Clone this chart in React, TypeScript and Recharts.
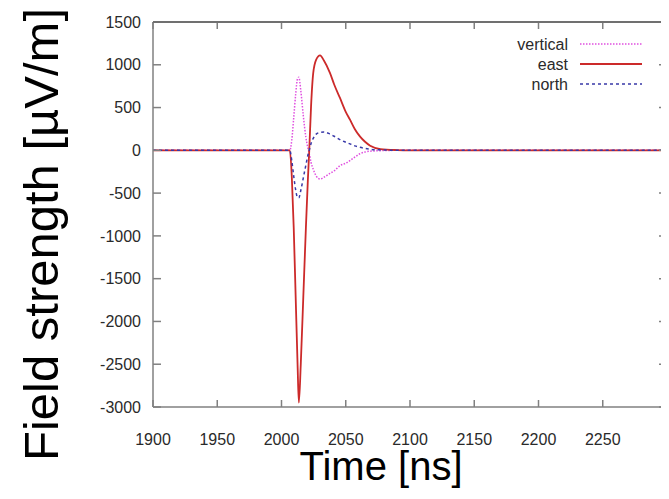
import React from 'react';
import { LineChart, Line, XAxis, YAxis, Legend, Label } from 'recharts';

// time samples in ns
const times = [
  1900, 2000, 2006.5, 2008, 2009.5, 2011, 2012.5, 2013.5, 2015, 2017, 2019, 2020.5, 2021.6,
  2023, 2024.7, 2027, 2030, 2033, 2037.7, 2041, 2045.5, 2050, 2053.3, 2057, 2061, 2065,
  2069, 2077, 2090, 2100, 2300,
];

// field strength in µV/m
const east = [
  0, 0, 0, -300, -900, -1700, -2500, -2950, -2500, -1700, -900, -350, 0,
  514, 905, 1060, 1110, 1050, 905, 770, 612, 450, 358, 250, 163, 100,
  54, 15, 3, 0, 0,
];
const vertical = [
  0, 0, 0, 120, 380, 650, 840, 855, 700, 400, 150, 30, -40,
  -140, -220, -300, -335, -315, -270, -240, -180, -150, -120, -80, -40, -20,
  -10, -4, 0, 0, 0,
];
const north = [
  0, 0, 0, -120, -300, -460, -550, -555, -470, -320, -170, -60, 0,
  80, 140, 190, 210, 215, 190, 165, 125, 95, 75, 52, 35, 22,
  13, 5, 1, 0, 0,
];

const xTicks = [1900, 1950, 2000, 2050, 2100, 2150, 2200, 2250];
const yTicks = [-3000, -2500, -2000, -1500, -1000, -500, 0, 500, 1000, 1500];

const data = times.map((t, i) => ({
  time: t,
  vertical: vertical[i],
  east: east[i],
  north: north[i],
}));

const FONT = '"Liberation Sans", Arial, Helvetica, sans-serif';
const BORDER = '#808080';
const TICK_COLOR = '#2a2a2a';

// chart geometry
const W = 661;
const H = 491;
const MARGIN = { top: 14, right: 2, bottom: 0, left: 0 };
const Y_AXIS_W = 145;
const X_AXIS_H = 92;
const PLOT_TOP = MARGIN.top;
const PLOT_BOTTOM = H - MARGIN.bottom - X_AXIS_H;
const PLOT_LEFT = MARGIN.left + Y_AXIS_W;
const PLOT_RIGHT = W - MARGIN.right;

const series = [
  { key: 'vertical', color: '#e050e0', dash: '1.5 1.5', width: 1.5 },
  { key: 'east', color: '#cc2a2a', dash: undefined, width: 1.8 },
  { key: 'north', color: '#3838a8', dash: '3 3', width: 1.5 },
];

// tick label plus gnuplot-style inward marks on bottom and top of the frame
function XTick({ x, y, payload }: any) {
  return (
    <g>
      <line x1={x} x2={x} y1={PLOT_BOTTOM} y2={PLOT_BOTTOM - 7} stroke={BORDER} strokeWidth={1.5} />
      <line x1={x} x2={x} y1={PLOT_TOP} y2={PLOT_TOP + 7} stroke={BORDER} strokeWidth={1.5} />
      <text x={x} y={y} dy="0.71em" textAnchor="middle" fontSize={16} fontFamily={FONT} fill={TICK_COLOR}>
        {payload.value}
      </text>
    </g>
  );
}

function YTick({ x, y, payload }: any) {
  return (
    <g>
      <line x1={PLOT_LEFT} x2={PLOT_LEFT + 8} y1={y} y2={y} stroke={BORDER} strokeWidth={1.5} />
      <line x1={PLOT_RIGHT} x2={PLOT_RIGHT - 8} y1={y} y2={y} stroke={BORDER} strokeWidth={1.5} />
      <text x={x} y={y} dy="0.355em" textAnchor="end" fontSize={16} fontFamily={FONT} fill={TICK_COLOR}>
        {payload.value}
      </text>
    </g>
  );
}

function LegendBox() {
  return (
    <svg width={170} height={64}>
      {series.map((s, i) => (
        <g key={s.key}>
          <text
            x={80}
            y={10 + i * 20}
            textAnchor="end"
            dominantBaseline="central"
            fontSize={16}
            fontFamily={FONT}
            fill={TICK_COLOR}
          >
            {s.key}
          </text>
          <line
            x1={92}
            x2={154}
            y1={10 + i * 20}
            y2={10 + i * 20}
            stroke={s.color}
            strokeWidth={s.width}
            strokeDasharray={s.dash}
          />
        </g>
      ))}
    </svg>
  );
}

export default function App() {
  const frameLine = { stroke: BORDER, strokeWidth: 1.5 };
  return (
    <div style={{ fontFamily: FONT, position: 'relative', width: W, height: H }}>
      <LineChart width={W} height={H} data={data} margin={MARGIN}>
        <XAxis
          dataKey="time"
          type="number"
          domain={[1900, 2300]}
          ticks={xTicks}
          tick={<XTick />}
          tickLine={false}
          tickSize={0}
          tickMargin={27}
          axisLine={frameLine}
          height={X_AXIS_H}
          allowDataOverflow
        >
          <Label
            content={({ viewBox }: any) => (
              <text
                x={viewBox.x + viewBox.width / 2 - 29}
                y={viewBox.y + 73}
                textAnchor="middle"
                fontSize={40}
                fontFamily={FONT}
                fill="#000"
              >
                Time [ns]
              </text>
            )}
          />
        </XAxis>
        <YAxis
          type="number"
          domain={[-3000, 1500]}
          ticks={yTicks}
          tick={<YTick />}
          tickLine={false}
          tickSize={0}
          tickMargin={12}
          axisLine={frameLine}
          width={Y_AXIS_W}
          allowDataOverflow
        >
          <Label
            content={({ viewBox }: any) => {
              const cy = viewBox.y + viewBox.height / 2 + 20;
              return (
                <text
                  x={50}
                  y={cy}
                  transform={`rotate(-90 50 ${cy})`}
                  textAnchor="middle"
                  fontSize={49}
                  fontFamily={FONT}
                  fill="#000"
                >
                  Field strength [µV/m]
                </text>
              );
            }}
          />
        </YAxis>
        <Legend
          layout="horizontal"
          align="center"
          verticalAlign="middle"
          wrapperStyle={{ position: 'absolute', top: 26, left: 480, width: 170, height: 64 }}
          content={() => <LegendBox />}
        />
        {series.map((s) => (
          <Line
            key={s.key}
            type="monotone"
            dataKey={s.key}
            stroke={s.color}
            strokeWidth={s.width}
            strokeDasharray={s.dash}
            dot={false}
            activeDot={false}
            isAnimationActive={false}
          />
        ))}
      </LineChart>
      {/* top and right sides of the frame */}
      <svg
        width={W}
        height={H}
        style={{ position: 'absolute', left: 0, top: 0, zIndex: 10, pointerEvents: 'none' }}
      >
        <polyline
          points={`${PLOT_LEFT},${PLOT_TOP} ${PLOT_RIGHT - 1},${PLOT_TOP} ${PLOT_RIGHT - 1},${PLOT_BOTTOM}`}
          fill="none"
          stroke="#707070"
          strokeWidth={2}
        />
      </svg>
    </div>
  );
}
